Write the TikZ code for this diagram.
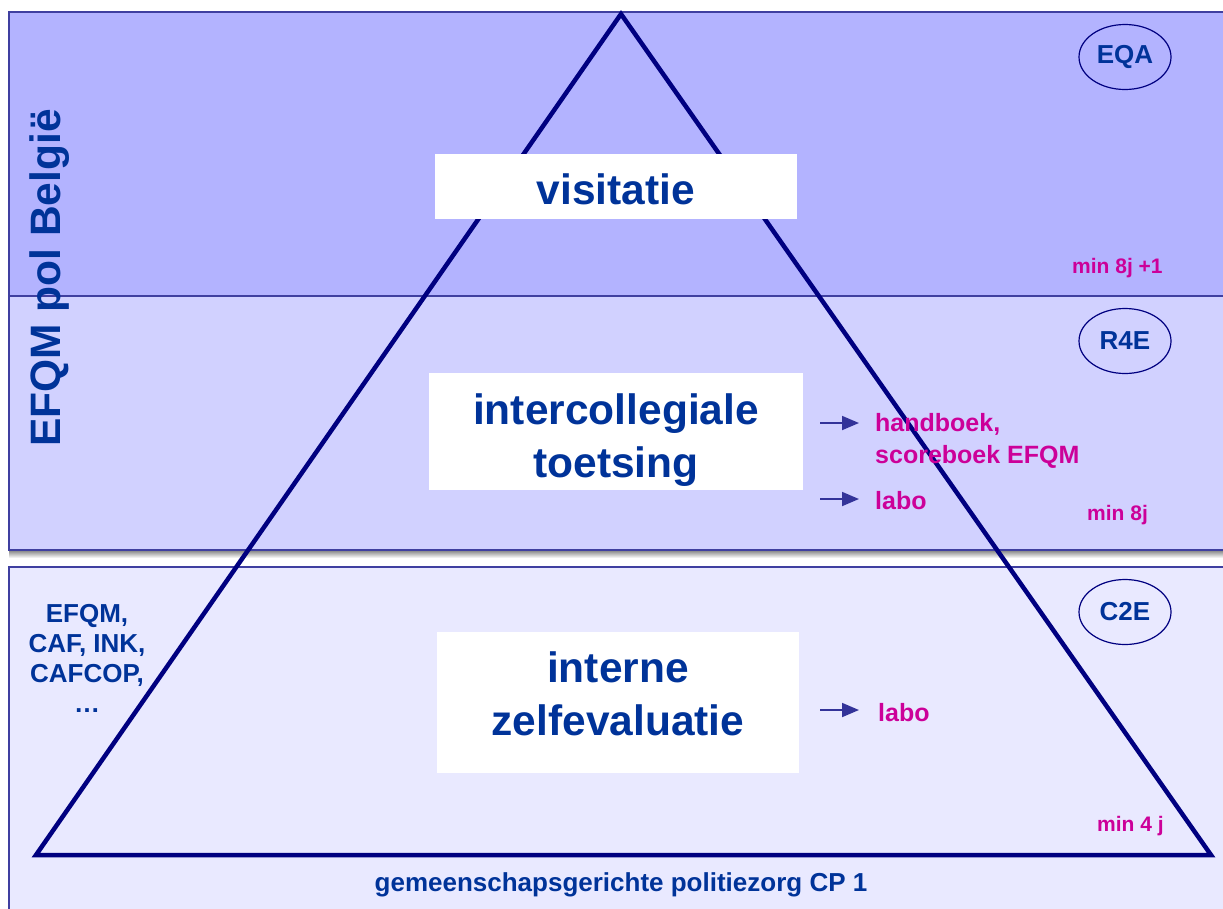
\documentclass[tikz,border=0pt]{standalone}
\usepackage{fontspec}
\setmainfont{Liberation Sans}
\usetikzlibrary{arrows.meta,shapes.geometric}
\definecolor{bandA}{HTML}{B3B3FF}
\definecolor{bandB}{HTML}{D1D1FF}
\definecolor{bandC}{HTML}{E9E9FF}
\definecolor{bandedge}{HTML}{3F3FA0}
\definecolor{shade}{HTML}{7F7F99}
\definecolor{navy}{HTML}{000080}
\definecolor{txtblue}{HTML}{003399}
\definecolor{mag}{HTML}{CC0099}
\definecolor{arrblue}{HTML}{333399}
\tikzset{
  band/.style={draw=bandedge, line width=1.2pt},
  whitebox/.style={fill=white, draw=none},
  bigtxt/.style={text=txtblue, font=\fontsize{42.5}{53}\selectfont\bfseries, align=center, inner sep=0pt},
  smalltxt/.style={text=txtblue, font=\fontsize{26}{30}\selectfont\bfseries, align=center, inner sep=0pt},
  magtxt/.style={text=mag, font=\fontsize{25}{32}\selectfont\bfseries, align=left, inner sep=0pt},
  mintxt/.style={text=mag, font=\fontsize{21}{24}\selectfont\bfseries, inner sep=0pt},
  tag/.style={ellipse, draw=navy, line width=1.2pt, minimum width=92pt, minimum height=65pt, inner sep=0pt, text=txtblue, font=\fontsize{26}{30}\selectfont\bfseries},
  arr/.style={draw=arrblue, line width=1.8pt, -{Triangle[length=17pt,width=14pt]}},
}
\begin{document}
\begin{tikzpicture}[x=1pt,y=-1pt]
\useasboundingbox (0,0) rectangle (1223,908);
% bands
\fill[shade] (9,550) rectangle (1240,558);
\draw[band, fill=bandA] (9,12) rectangle (1240,296);
\draw[band, fill=bandB] (9,296) rectangle (1240,550);
\draw[band, fill=bandC] (9,567) rectangle (1240,920);
% side label
\node[bigtxt, rotate=90] (side) at (50,278) {EFQM pol België};
% triangle
\coordinate (apex) at (621,14);
\coordinate (bl) at (36,855);
\coordinate (br) at (1211,855);
\draw[navy, line width=4.5pt, line join=miter] (apex) -- (br) -- (bl) -- cycle;
% white boxes
\fill[whitebox] (435,154) rectangle (797,219);
\fill[whitebox] (429,373) rectangle (803,490);
\fill[whitebox] (437,632) rectangle (799,773);
\node[bigtxt] (vis) at (616,189) {visitatie};
\node[bigtxt] (inter) at (616,440) {intercollegiale\\toetsing};
\node[bigtxt] (zelf) at (618,694) {interne\\zelfevaluatie};
% tags
\node[tag] (eqa) at (1125,57) {EQA};
\node[tag] (r4e) at (1125,341) {R4E};
\node[tag] (c2e) at (1125,612) {C2E};
% min labels
\node[mintxt, anchor=base west] (m1) at (1072,273) {min 8j +1};
\node[mintxt, anchor=base west] (m2) at (1087,520) {min 8j};
\node[mintxt, anchor=base west] (m3) at (1097,831) {min 4 j};
% right side labels
\node[magtxt, anchor=base west] (hb) at (875,431) {handboek,};
\node[magtxt, anchor=base west] (sb) at (875,463) {scoreboek EFQM};
\node[magtxt, anchor=base west] (labo1) at (875,509) {labo};
\node[magtxt, anchor=base west] (labo2) at (878,721) {labo};
\coordinate (s1) at (820,423);
\coordinate (e1) at (859,423);
\coordinate (s2) at (820,499);
\coordinate (e2) at (859,499);
\coordinate (s3) at (820,710);
\coordinate (e3) at (859,710);
\draw[arr] (s1) -- (e1);
\draw[arr] (s2) -- (e2);
\draw[arr] (s3) -- (e3);
% left models
\node[smalltxt, anchor=north] (models) at (87,604) {EFQM,\\CAF, INK,\\CAFCOP,\\\ldots};
% bottom label
\node[smalltxt, anchor=base] (cp) at (621,891) {gemeenschapsgerichte politiezorg CP 1};
\end{tikzpicture}
\end{document}
